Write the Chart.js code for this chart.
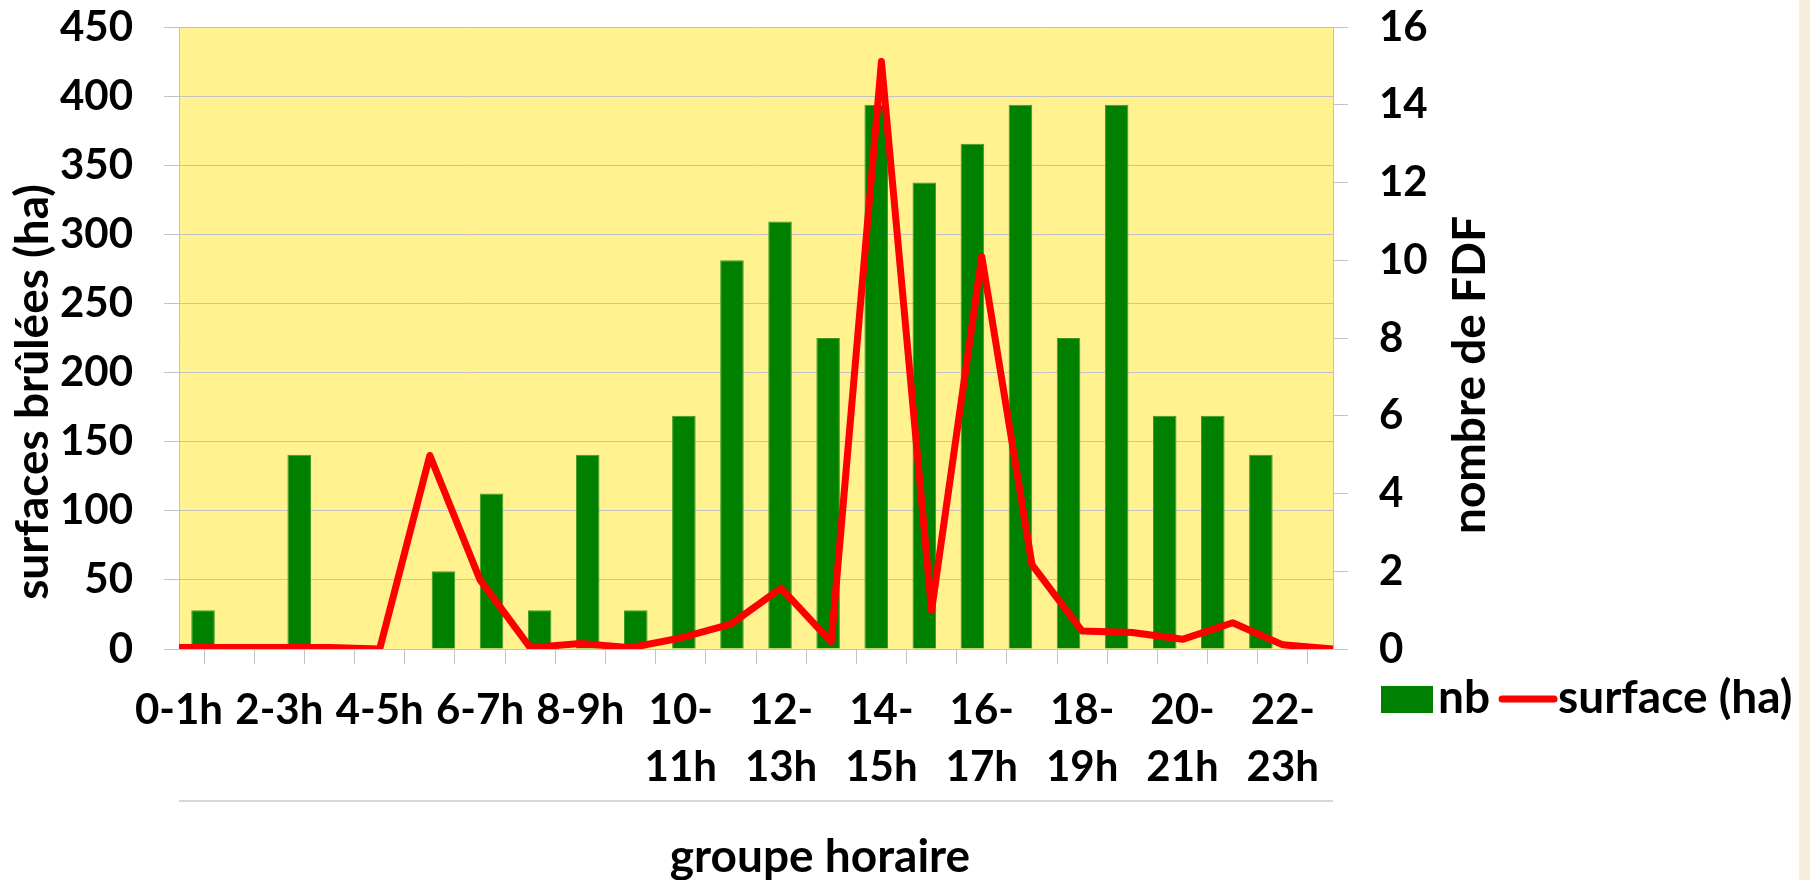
<!DOCTYPE html>
<html>
<head>
<meta charset="utf-8">
<script src="https://cdn.jsdelivr.net/npm/chart.js@4"></script>
<style>
    html, body { margin: 0; padding: 0; }
    body {
        width: 1810px;
        height: 880px;
        overflow: hidden;
        background: linear-gradient(to right, #ffffff 1799px, #f6eddb 1799px);
    }
    #wrap { position: relative; width: 1810px; height: 880px; }
</style>
</head>
<body>
<div id="wrap"><canvas id="chart"></canvas></div>
<script>
// hour groups (x axis)
var categories = ["0-1h", "1-2h", "2-3h", "3-4h", "4-5h", "5-6h", "6-7h", "7-8h",
    "8-9h", "9-10h", "10-11h", "11-12h", "12-13h", "13-14h", "14-15h", "15-16h",
    "16-17h", "17-18h", "18-19h", "19-20h", "20-21h", "21-22h", "22-23h", "23-24h"];

// number of fires per hour group (right axis)
var nbValues = [1, 0, 5, 0, 0, 2, 4, 1, 5, 1, 6, 10, 11, 8, 14, 12, 13, 14, 8, 14, 6, 6, 5, 0];

// burnt surface in ha (left axis)
var surfaceValues = [1, 1, 1, 1, 0, 140, 50, 1, 4, 1, 8, 18, 44, 5, 425, 28, 284, 61, 13, 12, 7, 19, 3, 0];

// axis ranges
var leftAxis = [0, 450, 50];
var rightAxis = [0, 16, 2];

var seriesNames = ["nb", "surface (ha)"];
var axisTitles = ["surfaces brûlées (ha)", "nombre de FDF", "groupe horaire"];

var TITLE_FONT = "bold 46px Lato";
var GRID = "#c3c3c3";

Chart.defaults.font.family = "Lato";
Chart.defaults.font.size = 42;
Chart.defaults.font.weight = "bold";
Chart.defaults.color = "#000";

// yellow plot area
var plotBackground = {
    id: "plotBackground",
    beforeDraw: function (chart) {
        var a = chart.chartArea;
        chart.ctx.save();
        chart.ctx.fillStyle = "#fff28f";
        chart.ctx.fillRect(a.left, a.top, a.right - a.left, a.bottom - a.top);
        chart.ctx.restore();
    },
};

// axis titles, separator line and legend
var extras = {
    id: "extras",
    afterDraw: function (chart) {
        var ctx = chart.ctx;
        var a = chart.chartArea;
        ctx.save();

        ctx.strokeStyle = "#d9d9d9";
        ctx.lineWidth = 2;
        ctx.beginPath();
        ctx.moveTo(a.left, a.bottom + 152);
        ctx.lineTo(a.right, a.bottom + 152);
        ctx.stroke();

        ctx.fillStyle = "#000";
        ctx.font = TITLE_FONT;
        ctx.textBaseline = "alphabetic";
        ctx.textAlign = "center";
        ctx.fillText(axisTitles[2], 820, 872);

        ctx.save();
        ctx.translate(48, 392);
        ctx.rotate(-Math.PI / 2);
        ctx.fillText(axisTitles[0], 0, 0);
        ctx.restore();

        ctx.save();
        ctx.translate(1485, 375);
        ctx.rotate(-Math.PI / 2);
        ctx.fillText(axisTitles[1], 0, 0);
        ctx.restore();

        // legend
        var x = 1381;
        var base = 713;
        ctx.textAlign = "left";
        chart.data.datasets.forEach(function (ds) {
            if (ds.type === "line") {
                ctx.strokeStyle = ds.borderColor;
                ctx.lineWidth = 7;
                ctx.lineCap = "round";
                ctx.beginPath();
                ctx.moveTo(x + 4, base - 14);
                ctx.lineTo(x + 56, base - 14);
                ctx.stroke();
                x += 60;
            } else {
                ctx.fillStyle = ds.backgroundColor;
                ctx.fillRect(x, base - 27, 52, 27);
                x += 57;
            }
            ctx.fillStyle = "#000";
            ctx.fillText(ds.label, x, base);
            x += ctx.measureText(ds.label).width + 8;
        });
        ctx.restore();
    },
};

// fixed axis sizes so the plot area lands where it should
function fixWidth(w) {
    return function (scale) {
        scale.width = w;
        scale.paddingTop = 0;
        scale.paddingBottom = 0;
    };
}

var ctx = document.getElementById("chart").getContext("2d");

var chartData = {
    labels: categories,
    datasets: [
        {
            type: "bar",
            label: seriesNames[0],
            data: nbValues,
            backgroundColor: "#008000",
            borderColor: "#3f9a22",
            borderWidth: 1,
            xAxisID: "x",
            yAxisID: "y1",
            grouped: false,
            categoryPercentage: 0.49,
            barPercentage: 1,
            order: 2,
        },
        {
            type: "line",
            label: seriesNames[1],
            data: surfaceValues,
            borderColor: "#ff0000",
            backgroundColor: "#ff0000",
            borderWidth: 7,
            borderJoinStyle: "round",
            pointRadius: 0,
            tension: 0,
            xAxisID: "x2",
            yAxisID: "y",
            order: 1,
        },
    ],
};

var chartOptions = {
    responsive: false,
    animation: false,
    layout: {
        padding: { left: 60, right: 382, top: 27, bottom: 0 },
    },
    plugins: {
        legend: { display: false },
        tooltip: { enabled: false },
    },
    scales: {
        x: {
            display: false,
            offset: true,
        },
        x2: {
            position: "bottom",
            offset: false,
            grid: {
                drawOnChartArea: false,
                tickLength: 15,
                color: GRID,
            },
            border: { color: GRID },
            ticks: {
                autoSkip: false,
                maxRotation: 0,
                padding: 18,
                font: { lineHeight: 1.36 },
                callback: function (value, index) {
                    if (index % 2) return "";
                    var parts = categories[index].split("-");
                    if (parts[0].length > 1) return [parts[0] + "-", parts[1]];
                    return categories[index];
                },
            },
            afterFit: function (scale) {
                scale.height = 231;
            },
        },
        y: {
            position: "left",
            min: leftAxis[0],
            max: leftAxis[1],
            grid: { color: GRID, tickLength: 15 },
            border: { color: GRID },
            ticks: { stepSize: leftAxis[2], padding: 31 },
            afterFit: fixWidth(119),
        },
        y1: {
            position: "right",
            min: rightAxis[0],
            max: rightAxis[1],
            grid: { drawOnChartArea: false, color: GRID, tickLength: 15 },
            border: { color: GRID },
            ticks: { stepSize: rightAxis[2], padding: 31 },
            afterFit: fixWidth(95),
        },
    },
};

var canvas = document.getElementById("chart");
canvas.width = 1810;
canvas.height = 880;

var myChart = new Chart(ctx, {
    type: "bar",
    data: chartData,
    options: chartOptions,
    plugins: [plotBackground, extras],
});
</script>
</body>
</html>
